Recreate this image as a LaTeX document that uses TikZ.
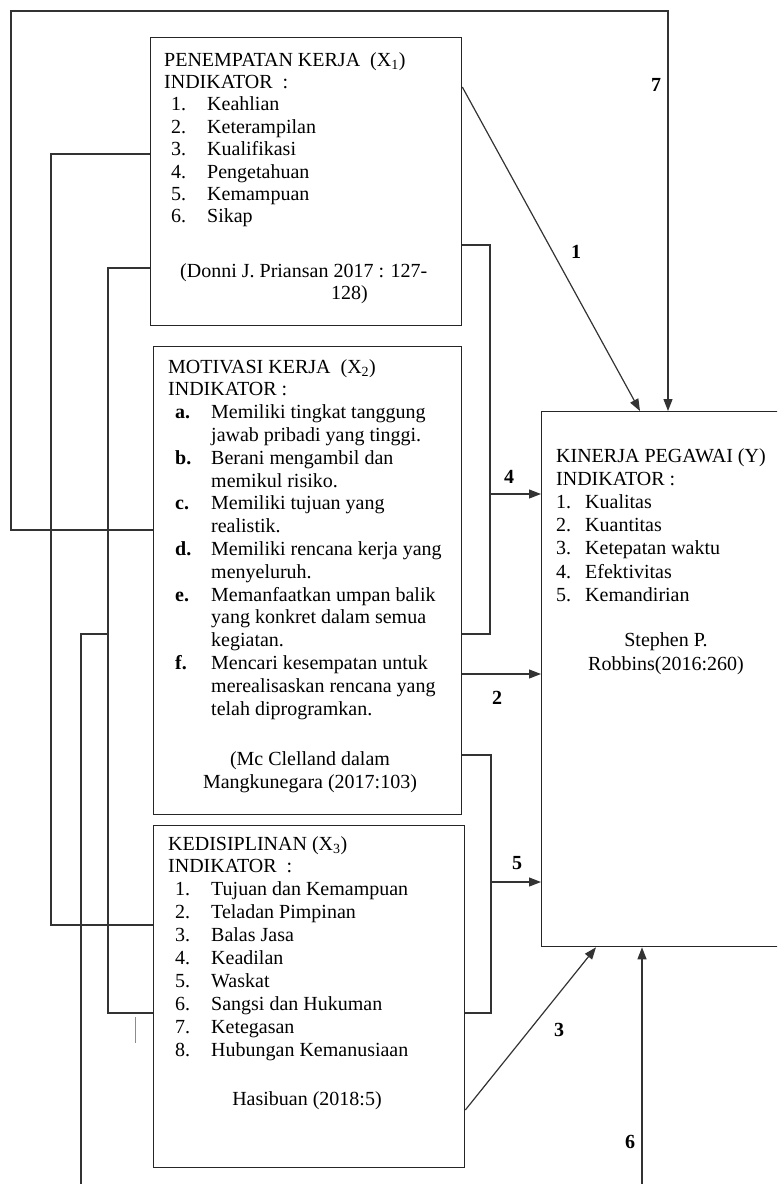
\documentclass[tikz,border=0pt]{standalone}
\usepackage{fontspec}
\setmainfont{Liberation Serif}
\usetikzlibrary{arrows.meta}

\newcommand{\itm}[2]{\hspace*{7pt}\makebox[36pt][l]{#1}#2}
\newcommand{\yitm}[2]{\makebox[29pt][l]{#1}#2}

\tikzset{
  box/.style={draw=black!85, line width=1.3pt, anchor=north west, inner sep=0pt},
  txt/.style={anchor=base west, inner sep=0pt,
              font=\fontsize{20}{22.8}\selectfont},
  src/.style={anchor=base, inner sep=0pt,
              font=\fontsize{20}{23}\selectfont},
  con/.style={draw=black!80, line width=1.2pt},
  arr/.style={con, -{Triangle[length=12pt,width=9pt]}},
  lbl/.style={inner sep=0pt, font=\fontsize{20}{24}\selectfont\bfseries}
}

\begin{document}
\begin{tikzpicture}[x=1pt,y=-1pt]
  \clip (0,0) rectangle (777,1184);

  % boxes
  \node[box, minimum width=311pt, minimum height=288pt] (x1) at (150,37) {};
  \node[box, minimum width=308pt, minimum height=468pt] (x2) at (153,346) {};
  \node[box, minimum width=311pt, minimum height=342pt] (x3) at (153,825) {};
  \node[box, minimum width=320pt, minimum height=535pt] (y) at (541,411) {};

  % texts
  \node[txt, font=\fontsize{20}{22.4}\selectfont] (x1txt) at (164,66) {%
    \begin{tabular}[t]{@{}l@{}}
      PENEMPATAN KERJA\ \ (X\textsubscript{1})\\
      INDIKATOR\ \ :\\
      \itm{1.}{Keahlian}\\
      \itm{2.}{Keterampilan}\\
      \itm{3.}{Kualifikasi}\\
      \itm{4.}{Pengetahuan}\\
      \itm{5.}{Kemampuan}\\
      \itm{6.}{Sikap}
    \end{tabular}};
  \node[txt] (x1src) at (180,277) {%
    \begin{tabular}[t]{@{}l@{}}
      (Donni J. Priansan 2017 : 127-\\
      \hspace*{151pt}128)
    \end{tabular}};

  \node[txt] (x2txt) at (168,373) {%
    \begin{tabular}[t]{@{}l@{}}
      MOTIVASI KERJA\ \ (X\textsubscript{2})\\
      INDIKATOR :\\
      \itm{\textbf{a.}}{Memiliki tingkat tanggung}\\
      \itm{}{jawab pribadi yang tinggi.}\\
      \itm{\textbf{b.}}{Berani mengambil dan}\\
      \itm{}{memikul risiko.}\\
      \itm{\textbf{c.}}{Memiliki tujuan yang}\\
      \itm{}{realistik.}\\
      \itm{\textbf{d.}}{Memiliki rencana kerja yang}\\
      \itm{}{menyeluruh.}\\
      \itm{\textbf{e.}}{Memanfaatkan umpan balik}\\
      \itm{}{yang konkret dalam semua}\\
      \itm{}{kegiatan.}\\
      \itm{\textbf{f.}}{Mencari kesempatan untuk}\\
      \itm{}{merealisaskan rencana yang}\\
      \itm{}{telah diprogramkan.}
    \end{tabular}};
  \node[src] (x2src) at (310,765) {%
    \begin{tabular}[t]{@{}c@{}}
      (Mc Clelland dalam\\
      Mangkunegara (2017:103)
    \end{tabular}};

  \node[txt, font=\fontsize{20}{22.9}\selectfont] (x3txt) at (168,850) {%
    \begin{tabular}[t]{@{}l@{}}
      KEDISIPLINAN (X\textsubscript{3})\\
      INDIKATOR\ \ :\\
      \itm{1.}{Tujuan dan Kemampuan}\\
      \itm{2.}{Teladan Pimpinan}\\
      \itm{3.}{Balas Jasa}\\
      \itm{4.}{Keadilan}\\
      \itm{5.}{Waskat}\\
      \itm{6.}{Sangsi dan Hukuman}\\
      \itm{7.}{Ketegasan}\\
      \itm{8.}{Hubungan Kemanusiaan}
    \end{tabular}};
  \node[src] (x3src) at (307,1105) {Hasibuan (2018:5)};

  \node[txt, font=\fontsize{20}{23.2}\selectfont] (ytxt) at (556,462) {%
    \begin{tabular}[t]{@{}l@{}}
      KINERJA PEGAWAI (Y)\\
      INDIKATOR :\\
      \yitm{1.}{Kualitas}\\
      \yitm{2.}{Kuantitas}\\
      \yitm{3.}{Ketepatan waktu}\\
      \yitm{4.}{Efektivitas}\\
      \yitm{5.}{Kemandirian}
    \end{tabular}};
  \node[src, font=\fontsize{20}{24}\selectfont] (ysrc) at (666,646) {%
    \begin{tabular}[t]{@{}c@{}}
      Stephen P.\\
      Robbins(2016:260)
    \end{tabular}};

  % bends
  \coordinate (c7) at (11,11);
  \coordinate (c4) at (490,634);
  \coordinate (j4) at (490,494);
  \coordinate (c5) at (491,1013);
  \coordinate (j5) at (491,882);
  \coordinate (cx) at (51,925);
  \coordinate (c6) at (108,1013);
  \coordinate (j6) at (108,634);
  \coordinate (e6) at (81,1195);
  \coordinate (s6) at (642,1195);

  % connectors
  \draw[arr] (x1.east |- 0,87) -- (y.north -| 640,0);
  \draw[arr] (x2.east |- 0,674) -- (y.west |- 0,674);
  \draw[arr] (x3.east |- 0,1110) -- (y.south -| 596,0);
  \draw[con] (x1.east |- 0,245) -| (c4) -- (x2.east |- c4);
  \draw[arr] (j4) -- (y.west |- j4);
  \draw[con] (x2.east |- 0,755) -| (c5) -- (x3.east |- c5);
  \draw[arr] (j5) -- (y.west |- j5);
  \draw[con] (x1.west |- 0,154) -| (cx) -- (x3.west |- cx);
  \draw[con] (x1.west |- 0,268) -| (c6) -- (x3.west |- c6);
  \draw[con] (j6) -| (e6);
  \draw[arr] (s6) -- (y.south -| s6);
  \draw[arr] (x2.west |- 0,530) -| (c7) -| (y.north -| 668,0);
  \draw[black!45, line width=0.8pt] (135,1017) -- (135,1043);

  % labels
  \node[lbl] (l1) at (576,252) {1};
  \node[lbl] (l2) at (497,698) {2};
  \node[lbl] (l3) at (559,1030) {3};
  \node[lbl] (l4) at (509,477) {4};
  \node[lbl] (l5) at (517,863) {5};
  \node[lbl] (l6) at (630,1142) {6};
  \node[lbl] (l7) at (656,85) {7};
\end{tikzpicture}
\end{document}
